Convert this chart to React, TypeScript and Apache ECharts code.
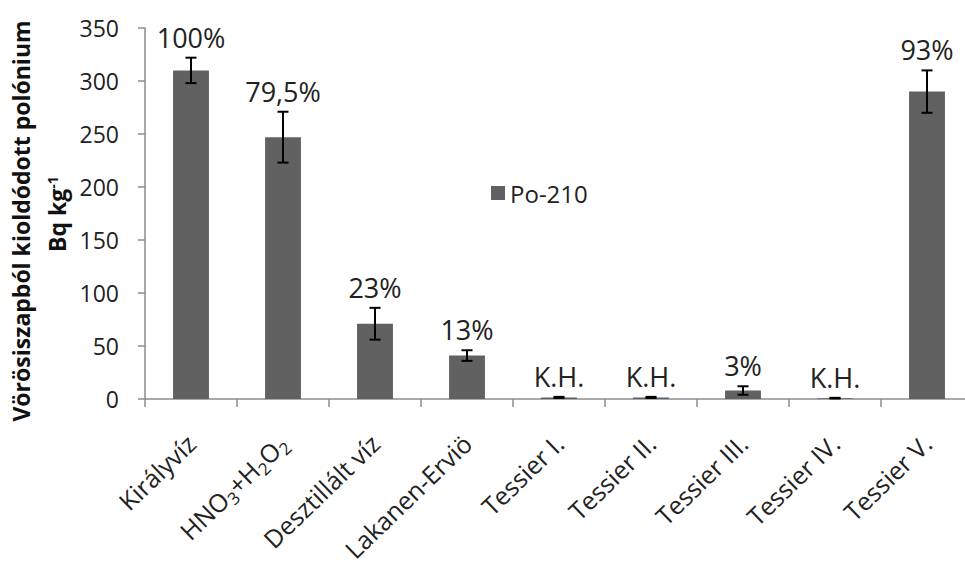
import React, { useEffect, useRef } from "react";
import * as echarts from "echarts";

const categories = [
  "Királyvíz",
  "HNO3+H2O2",
  "Desztillált víz",
  "Lakanen-Erviö",
  "Tessier I.",
  "Tessier II.",
  "Tessier III.",
  "Tessier IV.",
  "Tessier V.",
];
const values = [310, 247, 71, 41, 1.5, 1.5, 8, 0.8, 290];
const errors = [12, 24, 15, 5, 0.5, 0.5, 4, 0.3, 20];
const pctLabels = ["100%", "79,5%", "23%", "13%", "K.H.", "K.H.", "3%", "K.H.", "93%"];
const yMin = 0;
const yMax = 350;
const yStep = 50;

const FONT = "'Open Sans', 'Noto Sans', sans-serif";
const TEXT = "#222222";
const AXIS = "#8c8c8c";
const BAR = "#616161";

export default function App() {
  const ref = useRef<HTMLDivElement>(null);
  useEffect(() => {
    document.body.style.margin = "0";
    const chart = echarts.init(ref.current as HTMLDivElement, null, { renderer: "svg" });
    const option: any = {
      animation: false,
      backgroundColor: "#ffffff",
      textStyle: { fontFamily: FONT },
      grid: { left: 145, right: -8, top: 28, bottom: 170, containLabel: false, outerBoundsMode: "none" },
      legend: {
        data: ["Po-210"],
        left: 486,
        top: 176,
        icon: "rect",
        itemWidth: 14,
        itemHeight: 14,
        itemGap: 10,
        textStyle: { fontSize: 24, color: TEXT, fontFamily: FONT },
      },
      xAxis: {
        type: "category",
        data: categories,
        boundaryGap: true,
        axisLine: { show: true, lineStyle: { color: AXIS, width: 1.5 } },
        axisTick: { show: true, length: 8, alignWithLabel: false, lineStyle: { color: AXIS, width: 1.5 } },
        axisLabel: {
          interval: 0,
          rotate: 44,
          margin: 40,
          fontSize: 25,
          color: TEXT,
          fontFamily: FONT,
          hideOverlap: false,
          formatter: (v: string) =>
            v === "HNO3+H2O2" ? "HNO{sub|3}+H{sub|2}O{sub|2}" : v,
          rich: {
            sub: { fontSize: 17, verticalAlign: "bottom", color: TEXT, fontFamily: FONT, padding: [0, 0, -4, 0] },
          },
        },
        splitLine: { show: false },
      },
      yAxis: {
        type: "value",
        min: yMin,
        max: yMax,
        interval: yStep,
        axisLine: { show: true, lineStyle: { color: AXIS, width: 1.5 } },
        axisTick: { show: true, length: 7, lineStyle: { color: AXIS, width: 1.5 } },
        axisLabel: { fontSize: 23, color: TEXT, margin: 26, fontFamily: FONT },
        splitLine: { show: false },
      },
      graphic: [
        {
          type: "text",
          x: 21,
          y: 221,
          rotation: Math.PI / 2,
          style: {
            text: "Vörösiszapból kioldódott polónium",
            fontSize: 23,
            fontWeight: "bold",
            fontFamily: FONT,
            fill: "#111111",
            align: "center",
            verticalAlign: "middle",
          },
        },
        {
          type: "text",
          x: 57,
          y: 214,
          rotation: Math.PI / 2,
          style: {
            text: "{b|Bq kg}{s|-1}",
            align: "center",
            verticalAlign: "middle",
            rich: {
              b: { fontSize: 23, fontWeight: "bold", fontFamily: FONT, fill: "#111111", color: "#111111" },
              s: { fontSize: 14, fontWeight: "bold", fontFamily: FONT, fill: "#111111", color: "#111111", verticalAlign: "top" },
            },
          },
        },
      ],
      series: [
        {
          name: "Po-210",
          type: "bar",
          data: values,
          barWidth: "39%",
          itemStyle: { color: BAR },
        },
        {
          name: "err",
          type: "custom",
          data: categories.map((_, i) => [i, values[i], errors[i]]),
          encode: { x: 0, y: 1 },
          z: 5,
          silent: true,
          renderItem: (params: any, api: any) => {
            const i = api.value(0);
            const v = api.value(1);
            const e = api.value(2);
            const top = api.coord([i, v + e]);
            const bot = api.coord([i, Math.max(0, v - e)]);
            const cap = 5.5;
            const ls = { stroke: "#000000", lineWidth: 2 };
            return {
              type: "group",
              children: [
                { type: "line", shape: { x1: top[0], y1: top[1], x2: bot[0], y2: bot[1] }, style: ls },
                { type: "line", shape: { x1: top[0] - cap, y1: top[1], x2: top[0] + cap, y2: top[1] }, style: ls },
                { type: "line", shape: { x1: bot[0] - cap, y1: bot[1], x2: bot[0] + cap, y2: bot[1] }, style: ls },
                {
                  type: "text",
                  x: top[0],
                  y: top[1] - 7,
                  style: {
                    text: pctLabels[i],
                    fontSize: 27,
                    fontFamily: FONT,
                    fill: TEXT,
                    align: "center",
                    verticalAlign: "bottom",
                  },
                },
              ],
            };
          },
        },
      ],
    };
    chart.setOption(option);
    return () => chart.dispose();
  }, []);
  return <div ref={ref} style={{ width: 965, height: 569 }} />;
}
